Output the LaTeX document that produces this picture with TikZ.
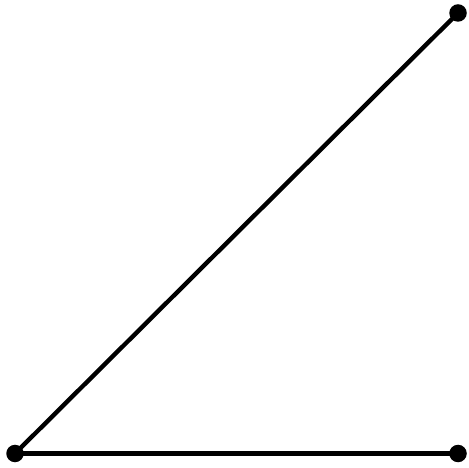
\documentclass[tikz,border=0pt]{standalone}
\usepackage{tikz}
\tikzset{
  pt/.style={circle, fill=black, inner sep=0pt, minimum size=3.5mm},
  seg/.style={line width=2.5pt, black},
}
\begin{document}
\begin{tikzpicture}
    \useasboundingbox (0,0) rectangle (9.36,9.36);
    \node[pt] (origin) at (0.30,0.29) {};
    \node[pt] (base) at (9.16,0.29) {};
    \node[pt] (apex) at (9.16,9.10) {};

    % sides
    \draw[seg] (origin.center) -- (base.center);
    \draw[seg] (origin.center) -- (apex.center);
\end{tikzpicture}
\end{document}
